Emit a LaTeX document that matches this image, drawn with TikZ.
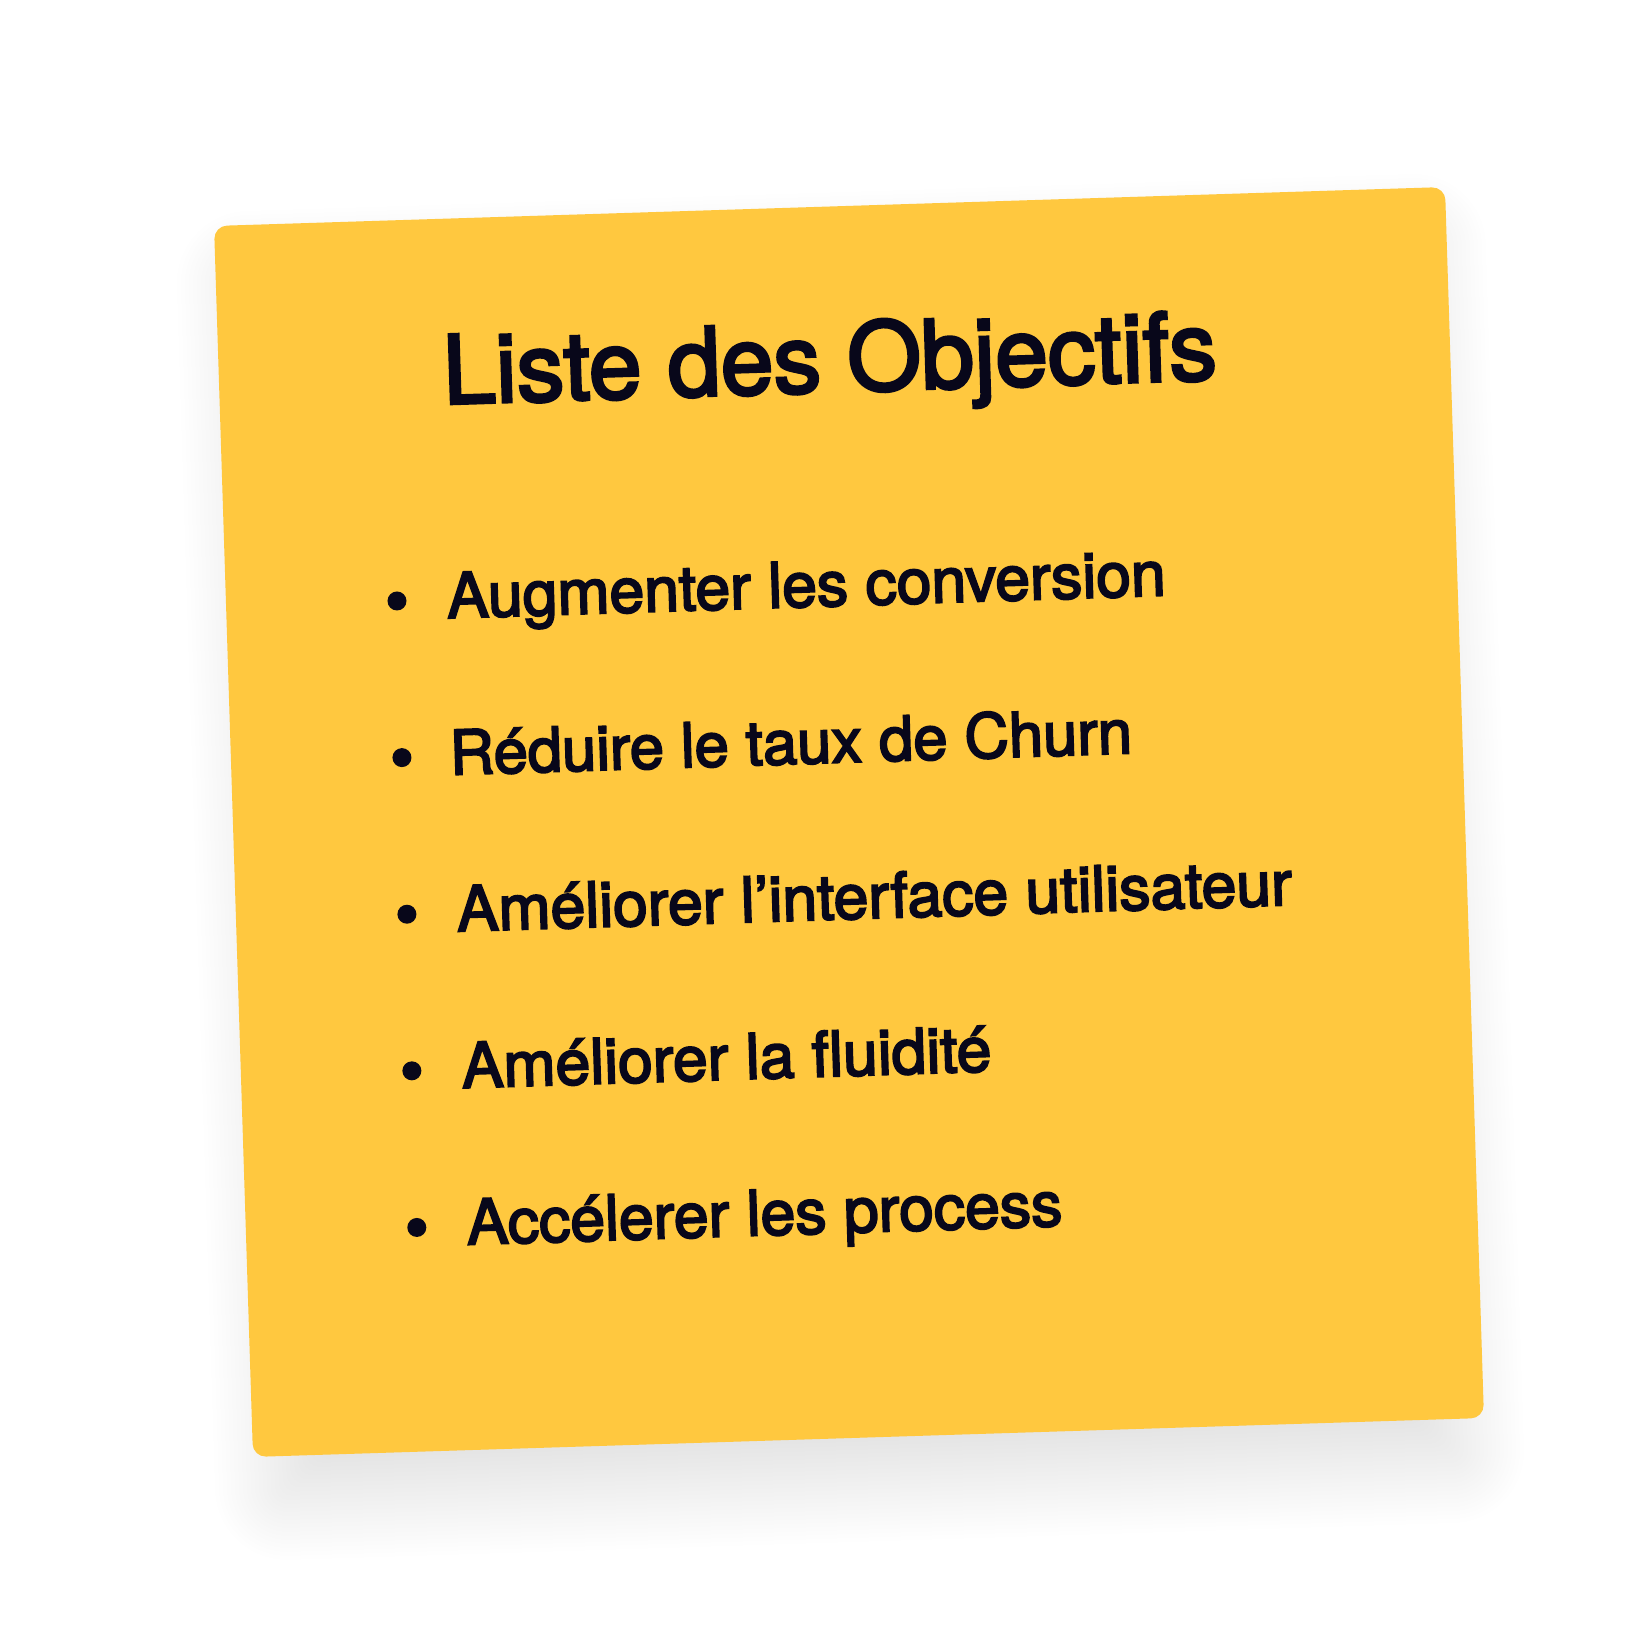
\documentclass[tikz,border=0pt]{standalone}
\usepackage{fontspec}
\setmainfont{TeX Gyre Heros}
\newfontfamily\notefont[FakeBold=3.2]{TeX Gyre Heros}
\definecolor{noteyellow}{HTML}{FFC83F}
\definecolor{inkcol}{HTML}{08071A}
\tikzset{
  notebox/.style={rectangle, fill=noteyellow, draw=none, minimum width=1231.6pt, minimum height=1231.6pt, inner sep=0pt, rounded corners=13pt, transform shape},
  titletext/.style={anchor=base west, inner sep=0pt, text=inkcol, transform shape, font={\notefont\fontsize{95}{110}\selectfont}},
  itemtext/.style={anchor=base west, inner sep=0pt, text=inkcol, transform shape, font={\notefont\fontsize{62.5}{70}\selectfont}},
  bulletdot/.style={circle, fill=inkcol, draw=none, minimum size=19pt, inner sep=0pt}
}
\begin{document}
\begin{tikzpicture}[x=1pt,y=1pt]
\useasboundingbox (0,0) rectangle (1640,1640);
\fill[white] (0,0) rectangle (1640,1640);
\begin{scope}[shift={(849,818)}, rotate=1.815]
  % soft shadow
  \foreach \e in {-45,-41,...,59} {
    \pgfmathsetmacro\rr{max(13,13+\e)}
    \fill[black, opacity=0.0056, rounded corners=\rr pt]
      (-595.8-\e, -660.8-\e) rectangle (595.8+\e, 570.8+\e);
  }
  \node[notebox] (note) at (0,0) {};
  \node[titletext] (title) at (-392,430.6) {Liste des Objectifs};
  \node[bulletdot] (b1) at (-444.8,235.2) {};
  \node[itemtext] (i1) at (-395,216.5) {Augmenter les conversion};
  \node[bulletdot] (b2) at (-444.8,78.5) {};
  \node[itemtext, font={\notefont\fontsize{61.5}{70}\selectfont}] (i2) at (-397,59.8) {Réduire le taux de Churn};
  \node[bulletdot] (b3) at (-444.8,-78.2) {};
  \node[itemtext] (i3) at (-395,-96.9) {Améliorer l’interface utilisateur};
  \node[bulletdot] (b4) at (-444.8,-234.9) {};
  \node[itemtext] (i4) at (-395,-253.6) {Améliorer la fluidité};
  \node[bulletdot] (b5) at (-444.8,-391.6) {};
  \node[itemtext] (i5) at (-395,-410.3) {Accélerer les process};
\end{scope}
\end{tikzpicture}
\end{document}
